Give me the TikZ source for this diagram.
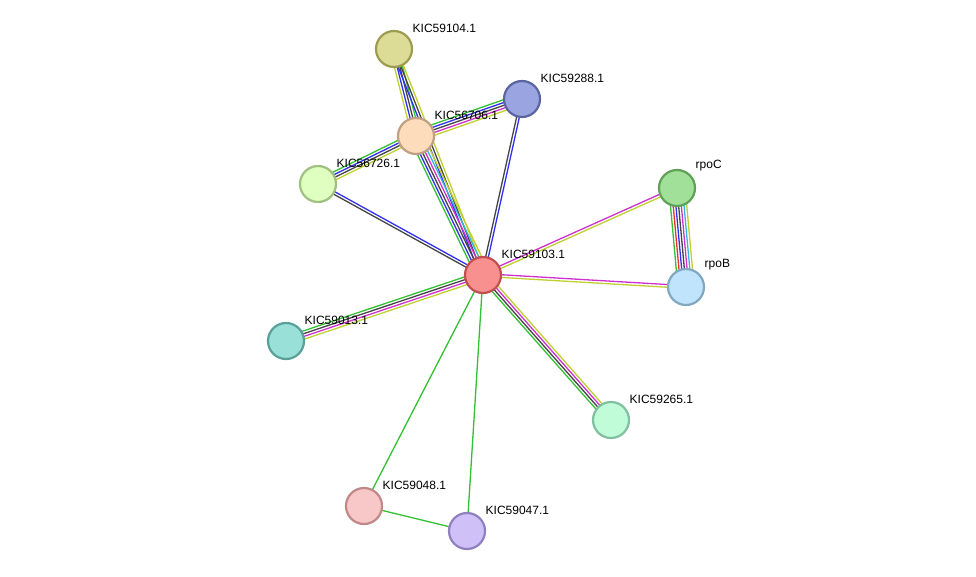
\documentclass[tikz,border=0pt]{standalone}
\usepackage{fontspec}
\setmainfont{Liberation Sans}
\usetikzlibrary{calc,backgrounds}
\definecolor{nb}{HTML}{33C033}
\definecolor{fu}{HTML}{F03030}
\definecolor{co}{HTML}{3030F0}
\definecolor{cx}{HTML}{444444}
\definecolor{ex}{HTML}{D030D0}
\definecolor{db}{HTML}{30B8D8}
\definecolor{tm}{HTML}{C0D030}
\tikzset{
    prot/.style n args = {2}{circle, minimum size=36pt, inner sep=0pt, line width=2.2pt, fill=#1, draw=#2},
    plabel/.style = {font=\fontsize{12}{12}\selectfont, inner sep=1pt}
}
\newcommand\multiedge[3]{%
    \foreach \c [count=\k] in {#3}{\xdef\nedges{\k}}
    \foreach \c [count=\k] in {#3}{
        \pgfmathsetmacro\off{(\k-(\nedges+1)/2)*2.7}
        \draw[\c, line width=1.3pt] ($(#1)!\off pt!90:(#2)$) -- ($(#2)!\off pt!-90:(#1)$);
    }}
\begin{document}
\begin{tikzpicture}[x=1pt, y=-1pt]
    \useasboundingbox (0,0) rectangle (976,577);

    % proteins
    \definecolor{f1}{HTML}{DCDC96}\definecolor{d1}{HTML}{9C9C50}
    \definecolor{f2}{HTML}{9AA4E0}\definecolor{d2}{HTML}{5A64A0}
    \definecolor{f3}{HTML}{FDDCBC}\definecolor{d3}{HTML}{C0A080}
    \definecolor{f4}{HTML}{DEFFC0}\definecolor{d4}{HTML}{A0C080}
    \definecolor{f5}{HTML}{A0E098}\definecolor{d5}{HTML}{60A058}
    \definecolor{f6}{HTML}{F89090}\definecolor{d6}{HTML}{C05050}
    \definecolor{f7}{HTML}{C0E4FC}\definecolor{d7}{HTML}{80A8C0}
    \definecolor{f8}{HTML}{98E0D8}\definecolor{d8}{HTML}{58A098}
    \definecolor{f9}{HTML}{C0FCD8}\definecolor{d9}{HTML}{80C0A0}
    \definecolor{fa}{HTML}{F8C8C8}\definecolor{da}{HTML}{C08888}
    \definecolor{fb}{HTML}{D0C0F8}\definecolor{db2}{HTML}{9080C0}
    \node [prot={f1}{d1}] (k59104) at (394,49) {};
    \node [prot={f2}{d2}] (k59288) at (522,99) {};
    \node [prot={f3}{d3}] (k56706) at (416,136) {};
    \node [prot={f4}{d4}] (k56726) at (318,184) {};
    \node [prot={f5}{d5}] (rpoC) at (677,188) {};
    \node [prot={f6}{d6}] (k59103) at (483,275) {};
    \node [prot={f7}{d7}] (rpoB) at (686,287) {};
    \node [prot={f8}{d8}] (k59013) at (286,341) {};
    \node [prot={f9}{d9}] (k59265) at (611,420) {};
    \node [prot={fa}{da}] (k59048) at (364,506) {};
    \node [prot={fb}{db2}] (k59047) at (467,531) {};

    % labels
    \foreach \n/\t in {k59104/KIC59104.1, k59288/KIC59288.1, k56706/KIC56706.1,
                       k56726/KIC56726.1, rpoC/rpoC, k59103/KIC59103.1, rpoB/rpoB,
                       k59013/KIC59013.1, k59265/KIC59265.1, k59048/KIC59048.1,
                       k59047/KIC59047.1}
        \node [plabel, anchor=south west] (\n-lbl) at ($(\n.north east)+(4,-2)$) {\t};

    % interactions
    \begin{scope}[on background layer]
        \multiedge{k59104}{k56706}{tm,co,cx,nb}
        \multiedge{k59104}{k59103}{co,cx,tm}
        \multiedge{k56706}{k59288}{tm,ex,cx,co,nb}
        \multiedge{k56726}{k56706}{tm,cx,co,nb}
        \multiedge{k56726}{k59103}{cx,co}
        \multiedge{k56706}{k59103}{nb,co,cx,ex,db,tm}
        \multiedge{k59288}{k59103}{cx,co}
        \multiedge{rpoC}{k59103}{ex,tm}
        \multiedge{rpoB}{k59103}{ex,tm}
        \multiedge{rpoC}{rpoB}{nb,fu,co,cx,ex,db,tm}
        \multiedge{k59013}{k59103}{tm,ex,cx,nb}
        \multiedge{k59265}{k59103}{tm,ex,cx,nb}
        \multiedge{k59048}{k59103}{nb}
        \multiedge{k59047}{k59103}{nb}
        \multiedge{k59048}{k59047}{nb}
    \end{scope}
\end{tikzpicture}
\end{document}
